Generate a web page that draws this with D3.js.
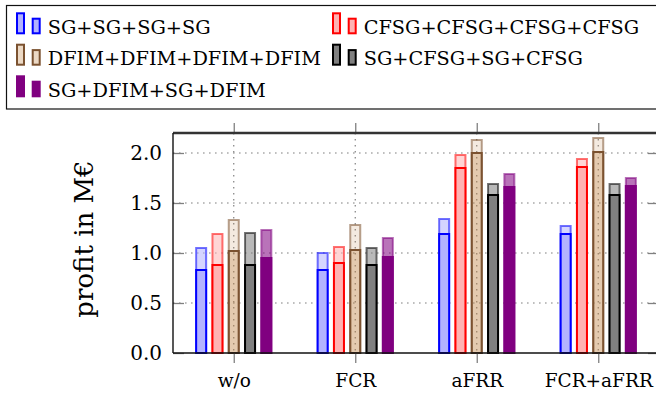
<!DOCTYPE html>
<html>
<head>
<meta charset="utf-8">
<script src="https://cdn.jsdelivr.net/npm/d3@7"></script>
<style>
  body { margin: 0; background: #fff; }
  svg { display: block; }
  text { font-family: "DejaVu Serif", serif; fill: #000; }
</style>
</head>
<body>
<svg id="chart" width="656" height="397"></svg>
<script>
// Market participation scenarios (x groups)
const categories = ["w/o", "FCR", "aFRR", "FCR+aFRR"];
// Machine configurations (bar series)
const seriesNames = [
  "SG+SG+SG+SG",
  "CFSG+CFSG+CFSG+CFSG",
  "DFIM+DFIM+DFIM+DFIM",
  "SG+CFSG+SG+CFSG",
  "SG+DFIM+SG+DFIM"
];
// Profit in M€, upper (translucent) bar per series, one value per scenario
const profitUpper = [
  [1.05, 1.00, 1.34, 1.27],
  [1.19, 1.06, 1.98, 1.94],
  [1.33, 1.28, 2.13, 2.15],
  [1.20, 1.05, 1.69, 1.69],
  [1.23, 1.15, 1.79, 1.75]
];
// Profit in M€, lower (solid) bar per series
const profitLower = [
  [0.83, 0.83, 1.19, 1.19],
  [0.88, 0.90, 1.85, 1.86],
  [1.02, 1.03, 2.00, 2.01],
  [0.88, 0.88, 1.58, 1.58],
  [0.95, 0.96, 1.66, 1.67]
];
const yTicks = [0, 0.5, 1.0, 1.5, 2.0];
const yTickLabels = ["0.0", "0.5", "1.0", "1.5", "2.0"];
const yLabel = "profit in M€";

// Series styles
const strokeColors = ["#0000ff", "#ff0000", "#7b5230", "#000000", "#800080"];
const fillColors   = ["#b3b3ff", "#ffb3b3", "#bf8040", "#808080", "#800080"];
const fillOpacity  = [1, 1, 0.3, 1, 1];
const upperOpacity = 0.55;

const svg = d3.select("#chart");
const plot = { left: 173, right: 659, top: 133, bottom: 353 };

const x = d3.scaleLinear().domain([-0.5, categories.length - 0.5]).range([plot.left, plot.right]);
const offset = d3.scalePoint().domain(seriesNames).range([-32.6, 32.6]);
const y = d3.scaleLinear().domain([0, 2.2]).range([plot.bottom, plot.top]);
const barWidth = 10;

// Dotted grid
const grid = svg.append("g").attr("class", "grid");
grid.selectAll("line.h").data(yTicks.filter(d => d > 0)).join("line")
  .attr("x1", plot.left).attr("x2", plot.right)
  .attr("y1", d => y(d)).attr("y2", d => y(d))
  .attr("stroke", "#808080").attr("stroke-width", 1.2).attr("stroke-dasharray", "1.6,4.4");
grid.selectAll("line.v").data(categories.map((c, i) => i)).join("line")
  .attr("x1", d => x(d)).attr("x2", d => x(d))
  .attr("y1", plot.top).attr("y2", plot.bottom)
  .attr("stroke", "#808080").attr("stroke-width", 1.2).attr("stroke-dasharray", "1.6,4.4");

// Bars: translucent upper bar behind, solid lower bar in front
const bars = svg.append("g").attr("class", "bars");
seriesNames.forEach((name, s) => {
  const g = bars.append("g");
  const rows = categories.map((c, i) => ({ i, up: profitUpper[s][i], lo: profitLower[s][i] }));
  g.selectAll("rect.upper").data(rows).join("rect")
    .attr("class", "upper")
    .attr("x", d => x(d.i) + offset(name) - barWidth / 2)
    .attr("width", barWidth)
    .attr("y", d => y(d.up))
    .attr("height", d => y(0) - y(d.up))
    .attr("fill", fillColors[s]).attr("fill-opacity", fillOpacity[s] * upperOpacity)
    .attr("stroke", strokeColors[s]).attr("stroke-opacity", upperOpacity)
    .attr("stroke-width", 2);
  g.selectAll("rect.lower").data(rows).join("rect")
    .attr("class", "lower")
    .attr("x", d => x(d.i) + offset(name) - barWidth / 2)
    .attr("width", barWidth)
    .attr("y", d => y(d.lo))
    .attr("height", d => y(0) - y(d.lo))
    .attr("fill", fillColors[s]).attr("fill-opacity", fillOpacity[s])
    .attr("stroke", strokeColors[s])
    .attr("stroke-width", 2);
});

// Y axis: ticks drawn inward, labels to the left
const yAxis = d3.axisLeft(y).tickValues(yTicks)
  .tickFormat((d, i) => yTickLabels[i])
  .tickSizeInner(-11).tickSizeOuter(0).tickPadding(11);
const yg = svg.append("g").attr("transform", `translate(${plot.left},0)`).call(yAxis);
yg.select(".domain").remove();
yg.selectAll(".tick line").attr("stroke", "#808080").attr("stroke-width", 1.3);
yg.selectAll(".tick text").attr("font-family", "DejaVu Serif").attr("font-size", 20).attr("fill", "#000");

const yRight = d3.axisRight(y).tickValues(yTicks).tickFormat("").tickSizeInner(-11).tickSizeOuter(0);
const yrg = svg.append("g").attr("transform", `translate(${plot.right},0)`).call(yRight);
yrg.select(".domain").remove();
yrg.selectAll(".tick line").attr("stroke", "#808080").attr("stroke-width", 1.3);

// X axis: ticks outward, category labels below
const xAxis = d3.axisBottom(x).tickValues(categories.map((c, i) => i))
  .tickFormat(i => categories[i]).tickSizeInner(10).tickSizeOuter(0).tickPadding(11);
const xg = svg.append("g").attr("transform", `translate(0,${plot.bottom})`).call(xAxis);
xg.select(".domain").remove();
xg.selectAll(".tick line").attr("stroke", "#808080").attr("stroke-width", 1.3);
xg.selectAll(".tick text").attr("font-family", "DejaVu Serif").attr("font-size", 18.5).attr("fill", "#000");

const xTop = d3.axisTop(x).tickValues(categories.map((c, i) => i)).tickFormat("").tickSizeInner(10).tickSizeOuter(0);
const xtg = svg.append("g").attr("transform", `translate(0,${plot.top})`).call(xTop);
xtg.select(".domain").remove();
xtg.selectAll(".tick line").attr("stroke", "#808080").attr("stroke-width", 1.3);

// Frame
svg.append("line").attr("x1", plot.left).attr("x2", plot.right).attr("y1", plot.top).attr("y2", plot.top)
  .attr("stroke", "#333").attr("stroke-width", 2.4);
svg.append("line").attr("x1", plot.left).attr("x2", plot.left).attr("y1", plot.top).attr("y2", plot.bottom)
  .attr("stroke", "#111").attr("stroke-width", 1.4);
svg.append("line").attr("x1", plot.left).attr("x2", plot.right).attr("y1", plot.bottom).attr("y2", plot.bottom)
  .attr("stroke", "#111").attr("stroke-width", 1.4);
svg.append("line").attr("x1", plot.right).attr("x2", plot.right).attr("y1", plot.top).attr("y2", plot.bottom)
  .attr("stroke", "#111").attr("stroke-width", 1.4);

// Y label
svg.append("text")
  .attr("transform", `translate(84,${(plot.top + plot.bottom) / 2 - 4}) rotate(-90)`)
  .attr("text-anchor", "middle").attr("dominant-baseline", "central")
  .attr("font-size", 26)
  .text(yLabel);

// Legend
const legend = svg.append("g").attr("class", "legend");
legend.append("rect").attr("x", 6.5).attr("y", 5.5).attr("width", 700).attr("height", 103.5)
  .attr("fill", "#fff").attr("stroke", "#111").attr("stroke-width", 1.2);
const colX = [16, 332];
const rowBase = [34.3, 65.7, 97.3];
seriesNames.forEach((name, s) => {
  const cx = colX[s % 2], base = rowBase[Math.floor(s / 2)];
  const item = legend.append("g");
  [{ dx: 0, h: 20 }, { dx: 15.7, h: 14.6 }].forEach(ic => {
    item.append("rect")
      .attr("x", cx + ic.dx + 1).attr("y", base - 1 - ic.h).attr("width", 7).attr("height", ic.h)
      .attr("fill", fillColors[s]).attr("fill-opacity", fillOpacity[s])
      .attr("stroke", strokeColors[s]).attr("stroke-width", 2);
  });
  item.append("text").attr("x", cx + 31.7).attr("y", base - 0.3)
    .attr("font-size", 19.3).text(name);
});
</script>
</body>
</html>
